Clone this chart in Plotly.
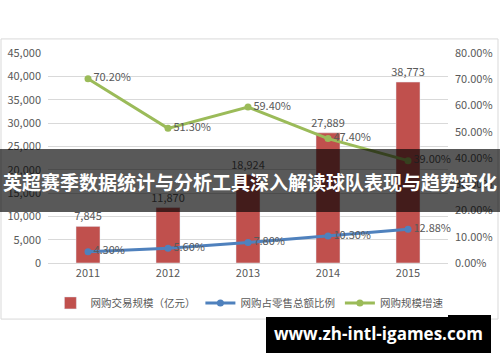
import plotly.graph_objects as go

years = ["2011", "2012", "2013", "2014", "2015"]
trade_scale = [7845, 11870, 18924, 27889, 38773]
share_pct = [4.30, 5.60, 7.80, 10.30, 12.88]
growth_pct = [70.20, 51.30, 59.40, 47.40, 39.00]

names = ["网购交易规模（亿元）", "网购占零售总额比例", "网购规模增速"]
title_text = "英超赛季数据统计与分析工具深入解读球队表现与趋势变化"
site_text = "www.zh-intl-igames.com"

RED = "#C0504D"
BLUE = "#4F81BD"
GREEN = "#9BBB59"
TXT = "#595959"
FONT = "Noto Sans CJK SC"

fig = go.Figure()
fig.add_trace(go.Bar(
    x=years, y=trade_scale, name=names[0], marker_color=RED, width=0.3,
    text=[f"{v:,}" for v in trade_scale], textposition="outside",
    constraintext="none",
    textfont=dict(color=TXT, size=11, family=FONT), cliponaxis=False,
))
fig.add_trace(go.Scatter(
    x=years, y=[v / 100 for v in share_pct], name=names[1], yaxis="y2",
    mode="lines+markers+text", line=dict(color=BLUE, width=3),
    marker=dict(size=7, color=BLUE),
    text=[f"{v:.2f}%" for v in share_pct], textposition="middle right",
    textfont=dict(color=TXT, size=11, family=FONT), cliponaxis=False,
))
fig.add_trace(go.Scatter(
    x=years, y=[v / 100 for v in growth_pct], name=names[2], yaxis="y2",
    mode="lines+markers+text", line=dict(color=GREEN, width=3),
    marker=dict(size=7, color=GREEN),
    text=[f"{v:.2f}%" for v in growth_pct], textposition="middle right",
    textfont=dict(color=TXT, size=11, family=FONT), cliponaxis=False,
))

fig.update_layout(
    width=500, height=362,
    margin=dict(l=48, r=52, t=53, b=99, autoexpand=False),
    paper_bgcolor="white", plot_bgcolor="white",
    font=dict(family=FONT, color=TXT, size=11),
    showlegend=True,
    legend=dict(orientation="h", x=1.001, xanchor="right", y=-0.19, yanchor="middle",
                font=dict(size=10.5, color=TXT), itemwidth=30, traceorder="normal"),
    xaxis=dict(type="category", range=[-0.5, 4.5], showgrid=False, showline=True,
               linecolor="#d9d9d9", ticks="", automargin=False,
               tickfont=dict(size=11, color=TXT)),
    yaxis=dict(range=[0, 45000], dtick=5000, tickformat=",", showgrid=True,
               gridcolor="#d9d9d9", zeroline=False, ticks="", ticklabelstandoff=6,
               automargin=False, tickfont=dict(size=11, color=TXT)),
    yaxis2=dict(range=[0, 0.8], dtick=0.1, tickformat=".2%", overlaying="y",
                side="right", showgrid=False, zeroline=False, ticks="",
                ticklabelstandoff=6, automargin=False,
                tickfont=dict(size=11, color=TXT)),
    shapes=[
        dict(type="rect", xref="paper", yref="paper", x0=-0.1175, x1=1.125,
             y0=-0.267, y1=1.067, line=dict(color="#d9d9d9", width=1),
             fillcolor="rgba(0,0,0,0)", layer="below"),
        dict(type="rect", xref="paper", yref="paper", x0=-0.13, x1=1.14,
             y0=0.243, y1=0.543, line=dict(width=0),
             fillcolor="rgba(0,0,0,0.65)", layer="above"),
        dict(type="rect", xref="paper", yref="paper", x0=0.545, x1=1.1075,
             y0=-0.4286, y1=-0.2476, line=dict(width=0),
             fillcolor="black", layer="above"),
    ],
    annotations=[
        dict(text=f"<b>{title_text}</b>", xref="paper", yref="paper", x=0.505, y=0.39,
             showarrow=False, font=dict(family=FONT, size=19, color="white"),
             xanchor="center", yanchor="middle"),
        dict(text=f"<b>{site_text}</b>", xref="paper", yref="paper", x=0.826, y=-0.338,
             showarrow=False, font=dict(family="Open Sans", size=17, color="white"),
             xanchor="center", yanchor="middle"),
    ],
)

fig.write_html("out.html", config={"displayModeBar": False},
               post_script="document.body.style.margin='0';")
